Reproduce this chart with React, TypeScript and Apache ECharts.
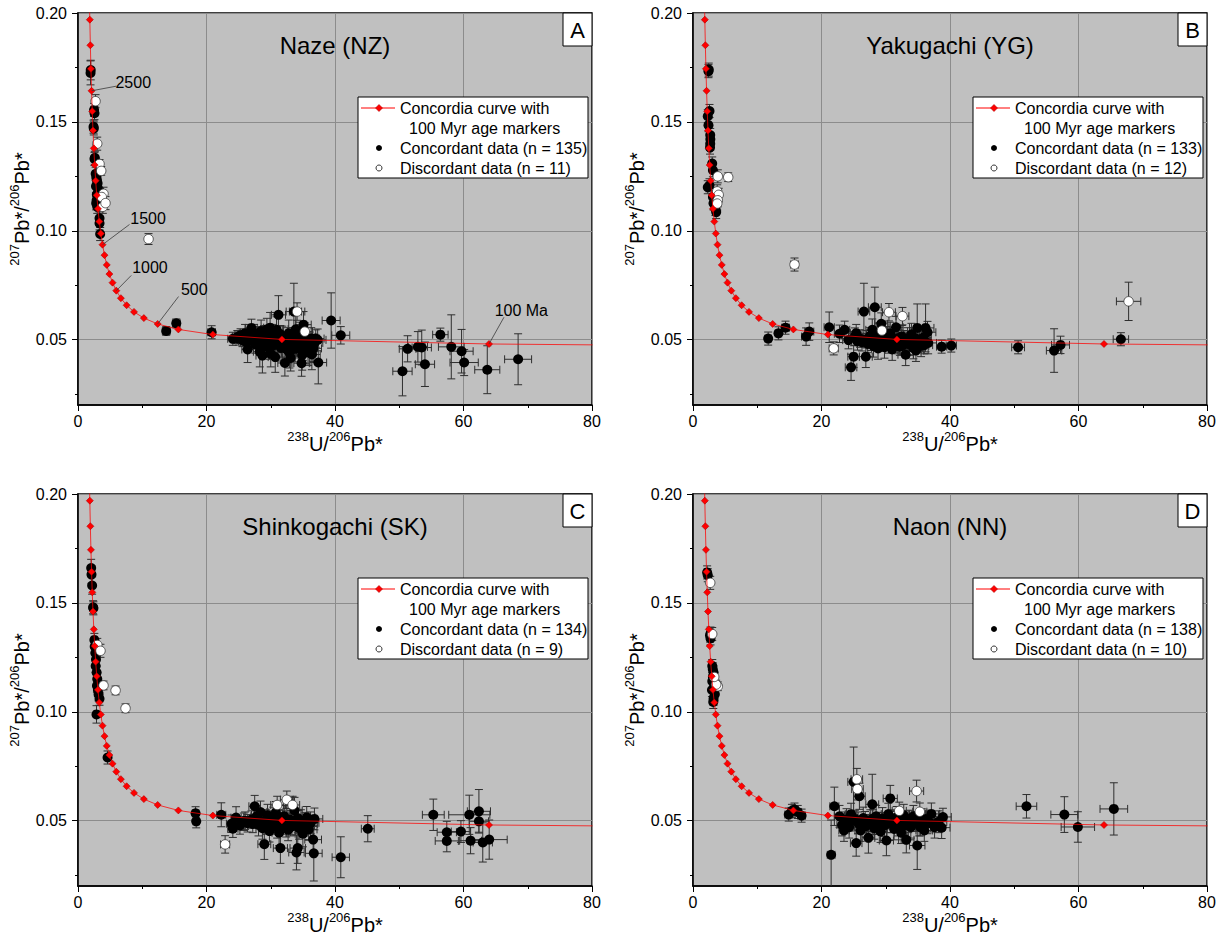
import React, { useEffect, useRef } from "react";
import * as echarts from "echarts";

const FONT = '"Liberation Sans", Arial, Helvetica, sans-serif';

// Panel texts
const panelTitles = ["Naze (NZ)", "Yakugachi (YG)", "Shinkogachi (SK)", "Naon (NN)"];
const panelLetters = ["A", "B", "C", "D"];
const concordantCounts = [135, 133, 134, 138];
const discordantCounts = [11, 12, 9, 10];

// Axis ticks
const xTicksInterval = 20;
const yMajorTicks = [0.05, 0.1, 0.15, 0.2];
const yMinorTicks = [0.025, 0.075, 0.125, 0.175];

// Concordia age markers (Ma) and their Tera-Wasserburg coordinates
const concordiaAges = [2800, 2700, 2600, 2500, 2400, 2300, 2200, 2100, 2000, 1900, 1800, 1700, 1600, 1500, 1400, 1300, 1200, 1100, 1000, 900, 800, 700, 600, 500, 400, 300, 200, 100];
const concordiaX = [1.8394, 1.9234, 2.0139, 2.1118, 2.2179, 2.3334, 2.4594, 2.5976, 2.7498, 2.9181, 3.1052, 3.3146, 3.5502, 3.8175, 4.1232, 4.476, 4.8879, 5.3749, 5.9596, 6.6745, 7.5684, 8.7183, 10.252, 12.399, 15.621, 20.992, 31.735, 63.97];
const concordiaY = [0.19693, 0.18519, 0.17436, 0.16427, 0.15484, 0.14605, 0.13784, 0.13017, 0.12301, 0.11632, 0.11006, 0.10421, 0.09873, 0.09362, 0.08882, 0.08433, 0.08013, 0.07619, 0.0725, 0.06905, 0.0658, 0.06276, 0.0599, 0.05722, 0.0547, 0.05234, 0.05011, 0.04802];
const curveTop = [1.7603, 0.20928];   // 2900 Ma (beyond plot top)
const curveTail = [80.08, 0.04761];   // 80 Ma (plot right edge)

// Panel A annotations: [markerX, markerY, leaderX, leaderY, textX, textY]
const annotationLabelsA = ["2500", "1500", "1000", "500", "100 Ma"];
const annotationsA = [
  [2.1118, 0.16427, 5.95, 0.1664, 8.6, 0.1683],
  [3.8175, 0.09362, 8.02, 0.1029, 10.9, 0.1057],
  [5.9596, 0.0725, 8.29, 0.0795, 11.2, 0.0833],
  [12.399, 0.05722, 15.65, 0.0698, 18.1, 0.0729],
  [63.97, 0.04802, 66.3, 0.0603, 69.0, 0.0634],
];

// Data: [238U/206Pb, 207Pb/206Pb, x error, y error]
const concordantA = [
  [1.95, 0.1725, 0.08, 0.0055], [1.98, 0.1738, 0.08, 0.0045], [2.57, 0.154, 0.1, 0.003], [2.5, 0.1555, 0.1, 0.003],
  [2.46, 0.147, 0.1, 0.003], [2.42, 0.1478, 0.1, 0.003], [2.57, 0.133, 0.1, 0.003], [2.62, 0.1335, 0.1, 0.003],
  [2.75, 0.1262, 0.1, 0.003], [2.85, 0.1245, 0.1, 0.003], [2.95, 0.1232, 0.1, 0.003], [3.05, 0.1218, 0.1, 0.003],
  [2.8, 0.1205, 0.1, 0.003], [3.1, 0.1195, 0.1, 0.003], [2.93, 0.1167, 0.1, 0.003], [3.2, 0.116, 0.1, 0.003],
  [2.83, 0.1126, 0.1, 0.003], [2.9, 0.114, 0.1, 0.003], [3.0, 0.111, 0.1, 0.003], [3.35, 0.1057, 0.1, 0.003],
  [3.35, 0.1034, 0.1, 0.003], [3.45, 0.0985, 0.12, 0.003],
  [13.73, 0.054, 0.6, 0.002], [15.3, 0.0575, 0.6, 0.002], [20.8, 0.0534, 0.6, 0.003],
  [24.1, 0.0504, 0.8, 0.003], [24.8, 0.0512, 0.8, 0.003], [25.3, 0.052, 0.9, 0.003], [25.6, 0.0498, 0.9, 0.003],
  [26.0, 0.053, 0.9, 0.004], [26.2, 0.0488, 0.9, 0.003], [26.5, 0.0512, 0.9, 0.004], [27.0, 0.0554, 0.9, 0.004],
  [27.3, 0.05, 1.0, 0.004], [27.6, 0.0478, 1.0, 0.004], [27.9, 0.052, 1.0, 0.004], [28.2, 0.0495, 1.0, 0.005],
  [28.5, 0.054, 1.0, 0.005], [28.7, 0.0427, 1.0, 0.008], [28.9, 0.047, 1.0, 0.005], [29.2, 0.051, 1.0, 0.005],
  [29.4, 0.0548, 1.0, 0.005], [29.6, 0.0485, 1.0, 0.004], [29.8, 0.046, 1.0, 0.005], [30.0, 0.0435, 1.0, 0.006],
  [30.2, 0.052, 1.1, 0.005], [30.4, 0.05, 1.1, 0.004], [30.6, 0.0476, 1.1, 0.005], [30.9, 0.0545, 1.1, 0.006],
  [31.2, 0.0614, 1.1, 0.0088], [31.4, 0.049, 1.1, 0.005], [31.6, 0.0462, 1.1, 0.006], [31.8, 0.0512, 1.1, 0.005],
  [32.2, 0.0393, 1.1, 0.006], [32.4, 0.047, 1.1, 0.005], [32.6, 0.0505, 1.1, 0.005], [32.8, 0.053, 1.2, 0.006],
  [33.1, 0.0416, 1.2, 0.006], [33.3, 0.048, 1.2, 0.005], [33.6, 0.0629, 1.2, 0.013], [33.8, 0.0458, 1.2, 0.006],
  [34.0, 0.05, 1.2, 0.005], [34.3, 0.0472, 1.2, 0.005], [34.5, 0.052, 1.2, 0.006], [34.8, 0.0392, 1.2, 0.006],
  [35.0, 0.0455, 1.2, 0.005], [35.1, 0.0569, 1.2, 0.006], [35.4, 0.049, 1.3, 0.005], [35.8, 0.0442, 1.3, 0.006],
  [36.0, 0.0475, 1.3, 0.005], [36.3, 0.0505, 1.3, 0.005], [36.6, 0.046, 1.3, 0.006], [37.3, 0.0499, 1.3, 0.005],
  [37.4, 0.0395, 1.3, 0.0098], [39.4, 0.0588, 1.4, 0.0127], [40.9, 0.052, 1.4, 0.004],
  [25.0, 0.0505, 0.9, 0.003], [26.8, 0.0495, 0.9, 0.004], [27.4, 0.053, 1.0, 0.004], [28.0, 0.0508, 1.0, 0.004],
  [28.6, 0.0488, 1.0, 0.004], [29.0, 0.0525, 1.0, 0.004], [29.5, 0.047, 1.0, 0.004], [30.3, 0.0495, 1.1, 0.004],
  [30.8, 0.0508, 1.1, 0.004], [31.0, 0.0482, 1.1, 0.004], [31.5, 0.0525, 1.1, 0.004], [32.0, 0.0488, 1.1, 0.004],
  [32.5, 0.0455, 1.1, 0.005], [33.0, 0.0498, 1.2, 0.004], [33.5, 0.0515, 1.2, 0.004], [34.0, 0.0468, 1.2, 0.004],
  [34.6, 0.0492, 1.2, 0.004], [35.2, 0.051, 1.2, 0.004], [35.6, 0.0468, 1.3, 0.004], [36.1, 0.0495, 1.3, 0.004],
  [36.8, 0.0485, 1.3, 0.004], [37.0, 0.0505, 1.3, 0.004],
  [26.4, 0.0455, 0.9, 0.006], [28.3, 0.0445, 1.0, 0.007], [30.7, 0.042, 1.1, 0.007], [32.9, 0.044, 1.2, 0.007],
  [34.9, 0.043, 1.2, 0.007], [36.4, 0.0432, 1.3, 0.007], [29.9, 0.0555, 1.0, 0.007], [33.9, 0.0548, 1.2, 0.007],
  [50.5, 0.0355, 1.5, 0.0113], [51.3, 0.0458, 1.3, 0.006], [52.9, 0.0467, 1.5, 0.007], [53.5, 0.0464, 1.5, 0.008],
  [54.0, 0.0387, 1.5, 0.0102], [56.4, 0.0523, 1.2, 0.003], [58.1, 0.0467, 2.0, 0.0147], [59.7, 0.0447, 1.8, 0.01],
  [60.1, 0.0395, 2.2, 0.006], [63.7, 0.0362, 1.95, 0.011], [68.5, 0.041, 2.1, 0.0117],
];
const discordantA = [
  [2.73, 0.1595, 0.1, 0.003], [2.99, 0.14, 0.1, 0.003], [3.35, 0.1307, 0.12, 0.002], [3.61, 0.1275, 0.12, 0.002],
  [3.97, 0.117, 0.12, 0.003], [3.7, 0.1155, 0.12, 0.003], [3.86, 0.111, 0.12, 0.003], [4.28, 0.1127, 0.12, 0.003],
  [10.98, 0.0962, 0.4, 0.0025], [34.1, 0.0629, 1.2, 0.004], [35.3, 0.0537, 1.2, 0.004],
];

const concordantB = [
  [2.41, 0.1733, 0.08, 0.003], [2.45, 0.174, 0.08, 0.003], [2.57, 0.155, 0.1, 0.003], [2.3, 0.1526, 0.1, 0.003],
  [2.41, 0.1485, 0.1, 0.003], [2.68, 0.144, 0.1, 0.003], [2.7, 0.142, 0.1, 0.003], [2.68, 0.14, 0.1, 0.003],
  [2.65, 0.1382, 0.1, 0.003], [2.99, 0.1309, 0.1, 0.003], [3.1, 0.1278, 0.1, 0.003], [2.57, 0.1209, 0.1, 0.003],
  [2.3, 0.12, 0.1, 0.003], [3.1, 0.1155, 0.1, 0.003], [3.19, 0.1126, 0.1, 0.003], [3.61, 0.1086, 0.1, 0.003],
  [3.5, 0.11, 0.1, 0.003],
  [11.7, 0.0505, 0.5, 0.003], [13.3, 0.0529, 0.5, 0.003], [14.4, 0.0555, 0.6, 0.003], [17.6, 0.0514, 0.7, 0.004],
  [18.1, 0.0537, 0.7, 0.004], [21.2, 0.0557, 0.8, 0.007], [22.8, 0.0527, 0.8, 0.004], [23.6, 0.0545, 0.8, 0.004],
  [24.6, 0.0373, 0.9, 0.006], [25.0, 0.0422, 0.9, 0.005], [25.2, 0.0514, 0.9, 0.004], [25.6, 0.0492, 0.9, 0.004],
  [26.0, 0.0505, 0.9, 0.004], [26.6, 0.0629, 0.9, 0.013], [26.9, 0.0422, 1.0, 0.005], [27.2, 0.048, 1.0, 0.004],
  [27.5, 0.0515, 1.0, 0.004], [27.9, 0.0545, 1.0, 0.005], [28.1, 0.047, 1.0, 0.005], [28.3, 0.0649, 1.0, 0.0092],
  [28.6, 0.05, 1.0, 0.004], [28.8, 0.046, 1.0, 0.005], [29.0, 0.0528, 1.0, 0.005], [29.3, 0.0573, 1.0, 0.005],
  [29.5, 0.0488, 1.0, 0.004], [29.8, 0.0465, 1.0, 0.005], [30.1, 0.051, 1.1, 0.005], [30.4, 0.0478, 1.1, 0.004],
  [30.7, 0.053, 1.1, 0.005], [31.0, 0.0455, 1.1, 0.005], [31.3, 0.05, 1.1, 0.004], [31.6, 0.0557, 1.1, 0.005],
  [31.9, 0.0485, 1.1, 0.005], [32.2, 0.0468, 1.1, 0.004], [32.5, 0.0515, 1.1, 0.005], [32.8, 0.0492, 1.1, 0.005],
  [33.1, 0.0431, 1.2, 0.005], [33.4, 0.0505, 1.2, 0.005], [33.7, 0.0478, 1.2, 0.005], [34.0, 0.0525, 1.2, 0.005],
  [34.3, 0.0462, 1.2, 0.005], [34.7, 0.045, 1.2, 0.005], [34.9, 0.0554, 1.2, 0.011], [35.2, 0.0495, 1.2, 0.005],
  [35.5, 0.0472, 1.2, 0.005], [35.8, 0.051, 1.3, 0.005], [36.2, 0.0554, 1.3, 0.011], [36.5, 0.0534, 1.3, 0.005],
  [36.6, 0.0485, 1.3, 0.005],
  [24.2, 0.0498, 0.9, 0.004], [25.4, 0.053, 0.9, 0.004], [26.3, 0.0488, 0.9, 0.004], [27.0, 0.0502, 1.0, 0.004],
  [27.7, 0.049, 1.0, 0.004], [28.4, 0.0522, 1.0, 0.004], [29.1, 0.0496, 1.0, 0.004], [29.7, 0.0512, 1.0, 0.004],
  [30.2, 0.0492, 1.1, 0.004], [30.9, 0.0505, 1.1, 0.004], [31.5, 0.0482, 1.1, 0.004], [32.0, 0.0508, 1.1, 0.004],
  [32.7, 0.0475, 1.1, 0.004], [33.2, 0.0495, 1.2, 0.004], [33.9, 0.0488, 1.2, 0.004], [34.5, 0.0508, 1.2, 0.004],
  [35.0, 0.0482, 1.2, 0.004], [35.6, 0.0498, 1.3, 0.004], [36.0, 0.0475, 1.3, 0.004],
  [38.7, 0.0468, 0.8, 0.003], [40.2, 0.0473, 0.8, 0.003], [50.6, 0.0465, 1.0, 0.003], [56.2, 0.045, 1.2, 0.01],
  [57.2, 0.0476, 1.4, 0.004], [66.6, 0.0502, 1.2, 0.003],
];
const discordantB = [
  [3.86, 0.125, 0.12, 0.003], [5.48, 0.1246, 0.25, 0.002], [3.77, 0.1181, 0.12, 0.003], [4.0, 0.1165, 0.12, 0.003],
  [3.86, 0.114, 0.12, 0.003], [3.77, 0.1125, 0.12, 0.003], [15.8, 0.0845, 0.6, 0.003], [21.9, 0.046, 0.7, 0.003],
  [29.4, 0.0542, 0.9, 0.004], [30.5, 0.0626, 1.0, 0.004], [32.6, 0.0608, 1.0, 0.004], [67.8, 0.0676, 1.9, 0.0088],
];

const concordantC = [
  [2.05, 0.166, 0.08, 0.004], [2.1, 0.163, 0.08, 0.004], [2.2, 0.158, 0.08, 0.004], [2.35, 0.148, 0.1, 0.003],
  [2.4, 0.1475, 0.1, 0.003], [2.55, 0.133, 0.1, 0.003], [2.6, 0.13, 0.1, 0.003], [2.7, 0.127, 0.1, 0.003],
  [2.8, 0.124, 0.1, 0.003], [2.75, 0.121, 0.1, 0.003], [2.9, 0.118, 0.1, 0.003], [3.0, 0.115, 0.1, 0.003],
  [2.95, 0.112, 0.1, 0.003], [3.1, 0.11, 0.1, 0.003], [3.2, 0.108, 0.1, 0.003], [3.35, 0.106, 0.1, 0.003],
  [2.88, 0.0988, 0.12, 0.004], [4.6, 0.079, 0.15, 0.003],
  [18.3, 0.0534, 0.5, 0.003], [18.4, 0.0497, 0.5, 0.003], [22.3, 0.0527, 0.7, 0.0055], [23.9, 0.0486, 0.8, 0.004],
  [24.1, 0.0463, 0.8, 0.004], [24.6, 0.0514, 0.8, 0.005], [25.2, 0.0478, 0.8, 0.004], [25.8, 0.0495, 0.9, 0.004],
  [26.4, 0.0488, 0.9, 0.004], [27.0, 0.0505, 0.9, 0.004], [27.5, 0.0566, 0.9, 0.005], [27.8, 0.052, 0.9, 0.005],
  [28.1, 0.048, 1.0, 0.005], [28.4, 0.054, 1.0, 0.005], [28.7, 0.0465, 1.0, 0.005], [29.0, 0.0392, 1.0, 0.007],
  [29.2, 0.05, 1.0, 0.005], [29.5, 0.0525, 1.0, 0.005], [29.8, 0.0452, 1.0, 0.005], [30.1, 0.0488, 1.0, 0.005],
  [30.4, 0.0512, 1.1, 0.005], [30.8, 0.0538, 1.1, 0.005], [31.0, 0.047, 1.1, 0.005], [31.3, 0.0445, 1.1, 0.006],
  [31.5, 0.0374, 1.1, 0.007], [31.8, 0.0498, 1.1, 0.005], [32.1, 0.052, 1.1, 0.005], [32.4, 0.0475, 1.1, 0.005],
  [32.7, 0.0458, 1.1, 0.005], [33.0, 0.0505, 1.2, 0.005], [33.3, 0.0485, 1.2, 0.005], [33.7, 0.0547, 1.2, 0.006],
  [34.0, 0.0354, 1.2, 0.008], [34.2, 0.0374, 1.2, 0.007], [34.4, 0.0465, 1.2, 0.005], [34.7, 0.05, 1.2, 0.005],
  [35.0, 0.044, 1.2, 0.006], [35.3, 0.048, 1.2, 0.005], [35.6, 0.0515, 1.3, 0.005], [35.9, 0.046, 1.3, 0.005],
  [36.2, 0.049, 1.3, 0.005], [36.6, 0.0413, 1.3, 0.006], [36.7, 0.035, 1.3, 0.0127], [36.8, 0.0508, 1.3, 0.005],
  [26.0, 0.05, 0.9, 0.004], [27.2, 0.0485, 0.9, 0.004], [28.0, 0.051, 1.0, 0.004], [28.6, 0.0495, 1.0, 0.004],
  [29.4, 0.0478, 1.0, 0.004], [30.0, 0.0505, 1.0, 0.004], [30.6, 0.049, 1.1, 0.004], [31.2, 0.051, 1.1, 0.004],
  [31.9, 0.0478, 1.1, 0.004], [32.5, 0.05, 1.1, 0.004], [33.1, 0.047, 1.2, 0.004], [33.6, 0.0495, 1.2, 0.004],
  [34.2, 0.0512, 1.2, 0.004], [34.8, 0.0478, 1.2, 0.004], [35.4, 0.0498, 1.3, 0.004], [36.0, 0.0485, 1.3, 0.004],
  [40.9, 0.0332, 1.35, 0.0094], [45.1, 0.0463, 1.0, 0.006], [55.3, 0.0527, 1.7, 0.0072], [57.4, 0.0447, 1.5, 0.005],
  [57.4, 0.0407, 1.8, 0.005], [59.6, 0.045, 1.5, 0.005], [60.9, 0.0527, 3.2, 0.009], [61.1, 0.0408, 1.7, 0.006],
  [62.4, 0.0543, 1.8, 0.01], [62.4, 0.0497, 1.5, 0.005], [63.0, 0.04, 1.5, 0.009], [64.0, 0.0413, 2.8, 0.009],
];
const discordantC = [
  [3.0, 0.1307, 0.12, 0.003], [3.5, 0.128, 0.12, 0.003], [3.97, 0.1121, 0.15, 0.002], [5.85, 0.1098, 0.2, 0.002],
  [7.4, 0.1016, 0.25, 0.002], [22.9, 0.0391, 0.7, 0.004], [31.0, 0.0572, 1.0, 0.004], [32.5, 0.0596, 1.0, 0.004],
  [33.4, 0.0572, 1.1, 0.004],
];

const concordantD = [
  [2.3, 0.1627, 0.1, 0.003], [2.2, 0.164, 0.1, 0.003], [2.73, 0.1359, 0.1, 0.003], [2.73, 0.1337, 0.1, 0.003],
  [2.65, 0.135, 0.1, 0.003], [3.08, 0.1195, 0.1, 0.003], [3.0, 0.121, 0.1, 0.003], [3.2, 0.118, 0.1, 0.003],
  [3.1, 0.116, 0.1, 0.003], [3.0, 0.114, 0.1, 0.003], [3.3, 0.112, 0.1, 0.003], [2.95, 0.11, 0.1, 0.003],
  [3.4, 0.108, 0.1, 0.003], [3.2, 0.106, 0.1, 0.003], [3.15, 0.1045, 0.1, 0.003],
  [14.9, 0.0528, 0.6, 0.003], [15.4, 0.0545, 0.6, 0.003], [15.8, 0.0551, 0.6, 0.003], [16.3, 0.054, 0.6, 0.003],
  [16.9, 0.0523, 0.6, 0.003], [21.5, 0.0343, 0.6, 0.016], [22.0, 0.0566, 0.7, 0.0088],
  [22.8, 0.052, 0.8, 0.005], [23.2, 0.048, 0.8, 0.005], [23.5, 0.0455, 0.8, 0.005], [23.9, 0.0505, 0.8, 0.005],
  [24.3, 0.047, 0.9, 0.005], [24.6, 0.053, 0.9, 0.005], [25.0, 0.0678, 0.9, 0.016], [25.4, 0.0397, 0.9, 0.006],
  [25.9, 0.0612, 0.9, 0.006], [25.7, 0.049, 0.9, 0.005], [26.1, 0.0455, 0.9, 0.005], [26.5, 0.0512, 0.9, 0.005],
  [26.9, 0.0475, 1.0, 0.005], [27.3, 0.0421, 1.0, 0.007], [27.6, 0.05, 1.0, 0.005], [27.9, 0.0575, 1.0, 0.0138],
  [28.2, 0.0465, 1.0, 0.005], [28.5, 0.052, 1.0, 0.005], [28.8, 0.0488, 1.0, 0.005], [29.2, 0.045, 1.0, 0.005],
  [29.5, 0.051, 1.0, 0.005], [29.8, 0.0478, 1.0, 0.005], [30.1, 0.0409, 1.1, 0.007], [30.4, 0.053, 1.1, 0.005],
  [30.7, 0.0602, 1.1, 0.006], [31.0, 0.0495, 1.1, 0.005], [31.3, 0.0462, 1.1, 0.005], [31.7, 0.0515, 1.1, 0.005],
  [32.0, 0.048, 1.1, 0.005], [32.4, 0.0445, 1.1, 0.005], [32.8, 0.0525, 1.2, 0.005], [33.2, 0.0412, 1.2, 0.006],
  [33.5, 0.0495, 1.2, 0.005], [33.9, 0.047, 1.2, 0.005], [34.3, 0.052, 1.2, 0.005], [34.9, 0.0386, 1.2, 0.011],
  [35.2, 0.048, 1.2, 0.005], [35.6, 0.0505, 1.2, 0.005], [36.0, 0.0455, 1.3, 0.005], [36.5, 0.049, 1.3, 0.005],
  [37.1, 0.0531, 1.3, 0.005], [37.6, 0.047, 1.3, 0.005], [38.2, 0.0495, 1.3, 0.005], [38.7, 0.0468, 1.3, 0.005],
  [38.9, 0.0517, 1.3, 0.004],
  [23.6, 0.05, 0.8, 0.004], [24.4, 0.0492, 0.9, 0.004], [25.2, 0.0508, 0.9, 0.004], [26.0, 0.048, 0.9, 0.004],
  [26.8, 0.0502, 1.0, 0.004], [27.4, 0.0488, 1.0, 0.004], [28.0, 0.051, 1.0, 0.004], [28.6, 0.0478, 1.0, 0.004],
  [29.4, 0.0498, 1.0, 0.004], [30.2, 0.0485, 1.1, 0.004], [30.8, 0.051, 1.1, 0.004], [31.5, 0.049, 1.1, 0.004],
  [32.2, 0.0502, 1.1, 0.004], [33.0, 0.0478, 1.2, 0.004], [33.7, 0.0508, 1.2, 0.004], [34.6, 0.049, 1.2, 0.004],
  [35.4, 0.047, 1.2, 0.004], [36.2, 0.0508, 1.3, 0.004], [37.0, 0.0488, 1.3, 0.004],
  [51.9, 0.0566, 1.6, 0.0054], [57.8, 0.0528, 2.1, 0.0082], [59.9, 0.0471, 2.6, 0.007], [65.5, 0.0554, 2.15, 0.012],
];
const discordantD = [
  [2.68, 0.1592, 0.1, 0.003], [2.99, 0.1357, 0.1, 0.003], [3.86, 0.1117, 0.15, 0.002], [3.6, 0.1125, 0.15, 0.002],
  [25.5, 0.069, 0.9, 0.005], [25.6, 0.0645, 0.9, 0.005], [32.1, 0.0545, 1.1, 0.004], [34.8, 0.0636, 1.1, 0.005],
  [35.3, 0.0541, 1.1, 0.004], [3.3, 0.116, 0.12, 0.002],
];

const concordantSets = [concordantA, concordantB, concordantC, concordantD];
const discordantSets = [discordantA, discordantB, discordantC, discordantD];

// Layout (pixels)
const GRID_W = 514;
const GRID_H = 392;
const gridOrigins = [[78, 13], [693, 13], [78, 494], [693, 494]];

const axisNameRich = {
  s: { fontSize: 13, fontFamily: FONT, color: "#000", verticalAlign: "top", lineHeight: 13 },
  n: { fontSize: 20, fontFamily: FONT, color: "#000", verticalAlign: "bottom", lineHeight: 24 },
};

function errorBarRender(params: any, api: any) {
  const x = api.value(0), y = api.value(1), xe = api.value(2), ye = api.value(3);
  const c = api.coord([x, y]);
  const l = api.coord([x - xe, y]);
  const r = api.coord([x + xe, y]);
  const t = api.coord([x, y + ye]);
  const b = api.coord([x, y - ye]);
  const cap = 4;
  const style = { stroke: "#2e2e2e", lineWidth: 1 };
  return {
    type: "group",
    children: [
      { type: "line", shape: { x1: l[0], y1: c[1], x2: r[0], y2: c[1] }, style },
      { type: "line", shape: { x1: c[0], y1: t[1], x2: c[0], y2: b[1] }, style },
      { type: "line", shape: { x1: l[0], y1: c[1] - cap, x2: l[0], y2: c[1] + cap }, style },
      { type: "line", shape: { x1: r[0], y1: c[1] - cap, x2: r[0], y2: c[1] + cap }, style },
      { type: "line", shape: { x1: c[0] - cap, y1: t[1], x2: c[0] + cap, y2: t[1] }, style },
      { type: "line", shape: { x1: c[0] - cap, y1: b[1], x2: c[0] + cap, y2: b[1] }, style },
    ],
  };
}

function annotationRender(params: any, api: any) {
  const m = api.coord([api.value(0), api.value(1)]);
  const s = api.coord([api.value(2), api.value(3)]);
  const t = api.coord([api.value(4), api.value(5)]);
  return {
    type: "group",
    children: [
      { type: "line", shape: { x1: s[0], y1: s[1], x2: m[0], y2: m[1] }, style: { stroke: "#3a3a3a", lineWidth: 0.8 } },
      {
        type: "text",
        x: t[0],
        y: t[1],
        style: {
          text: annotationLabelsA[params.dataIndex],
          fontSize: 16,
          fontFamily: FONT,
          fill: "#000",
          align: "center",
          verticalAlign: "middle",
        },
      },
    ],
  };
}

function buildOption() {
  const grids: any[] = [];
  const xAxes: any[] = [];
  const yAxes: any[] = [];
  const series: any[] = [];
  const graphics: any[] = [];

  const concordiaData: any[] = [{ value: curveTop, symbol: "none" }];
  for (let k = 0; k < concordiaAges.length; k++) {
    concordiaData.push({ value: [concordiaX[k], concordiaY[k]], name: String(concordiaAges[k]) });
  }
  concordiaData.push({ value: curveTail, symbol: "none" });

  for (let i = 0; i < 4; i++) {
    const [gx, gy] = gridOrigins[i];
    grids.push({
      left: gx,
      top: gy,
      width: GRID_W,
      height: GRID_H,
      show: true,
      backgroundColor: "#c0c0c0",
      borderColor: "#000",
      borderWidth: 1.5,
      containLabel: false,
      outerBoundsMode: "none",
    });
    xAxes.push({
      type: "value",
      gridIndex: i,
      min: 0,
      max: 80,
      interval: xTicksInterval,
      axisLine: { show: true, onZero: false, lineStyle: { color: "#000", width: 1.5 } },
      axisTick: { show: true, length: 6, lineStyle: { color: "#000", width: 1 } },
      minorTick: { show: true, splitNumber: 2, length: 3, lineStyle: { color: "#000", width: 1 } },
      axisLabel: { fontSize: 16, fontFamily: FONT, color: "#000", margin: 8 },
      splitLine: { show: true, lineStyle: { color: "#8c8c8c", width: 1 } },
      name: "{s|238}{n|U/}{s|206}{n|Pb*}",
      nameLocation: "middle",
      nameGap: 21,
      nameTextStyle: { rich: axisNameRich, fontSize: 20, fontFamily: FONT, color: "#000" },
    });
    yAxes.push({
      type: "value",
      gridIndex: i,
      min: 0.02,
      max: 0.2,
      splitNumber: 4,
      position: "left",
      axisLine: { show: true, onZero: false, lineStyle: { color: "#000", width: 1.5 } },
      axisTick: { show: true, length: 6, customValues: yMajorTicks, lineStyle: { color: "#000", width: 1 } },
      axisLabel: {
        customValues: yMajorTicks,
        formatter: (v: number) => v.toFixed(2),
        fontSize: 16,
        fontFamily: FONT,
        color: "#000",
        margin: 11,
      },
      splitLine: { show: true, lineStyle: { color: "#8c8c8c", width: 1 } },
      name: "{s|207}{n|Pb*/}{s|206}{n|Pb*}",
      nameLocation: "middle",
      nameGap: 43,
      nameTextStyle: { rich: axisNameRich, fontSize: 20, fontFamily: FONT, color: "#000" },
    });
    yAxes.push({
      type: "value",
      gridIndex: i,
      min: 0.02,
      max: 0.2,
      position: "left",
      offset: 0,
      axisLine: { show: false, onZero: false },
      axisTick: { show: true, length: 3, customValues: yMinorTicks, lineStyle: { color: "#000", width: 1 } },
      axisLabel: { show: false },
      splitLine: { show: false },
    });

    const yIdx = 2 * i;
    const conc = concordantSets[i];
    const disc = discordantSets[i];

    series.push({
      type: "custom",
      name: "errors-" + i,
      xAxisIndex: i,
      yAxisIndex: yIdx,
      renderItem: errorBarRender,
      data: conc.concat(disc),
      clip: true,
      z: 2,
      silent: true,
    });
    series.push({
      type: "scatter",
      name: "Concordant data",
      xAxisIndex: i,
      yAxisIndex: yIdx,
      data: conc.map((d) => [d[0], d[1]]),
      symbol: "circle",
      symbolSize: 10,
      itemStyle: { color: "#000", opacity: 1 },
      z: 3,
    });
    series.push({
      type: "scatter",
      name: "Discordant data",
      xAxisIndex: i,
      yAxisIndex: yIdx,
      data: disc.map((d) => [d[0], d[1]]),
      symbol: "circle",
      symbolSize: 9.5,
      itemStyle: { color: "#fff", borderColor: "#3a3a3a", borderWidth: 0.8, opacity: 1 },
      z: 4,
    });
    series.push({
      type: "line",
      name: "Concordia",
      xAxisIndex: i,
      yAxisIndex: yIdx,
      data: concordiaData,
      symbol: "diamond",
      symbolSize: 7,
      showSymbol: true,
      showAllSymbol: true,
      clip: true,
      lineStyle: { color: "#ff0000", width: 1, opacity: 0.75 },
      itemStyle: { color: "#ff0000", borderColor: "#b00000", borderWidth: 0.6 },
      z: 5,
    });
    if (i === 0) {
      series.push({
        type: "custom",
        name: "ages",
        xAxisIndex: 0,
        yAxisIndex: 0,
        renderItem: annotationRender,
        data: annotationsA,
        clip: false,
        z: 6,
        silent: true,
      });
    }

    const Z = 50;
    // Title
    graphics.push({
      type: "text",
      x: gx + GRID_W / 2,
      y: gy + 32,
      z: Z,
      style: { text: panelTitles[i], fontSize: 24, fontFamily: FONT, fill: "#000", align: "center", verticalAlign: "middle" },
    });
    // Panel letter box
    graphics.push({
      type: "rect",
      z: Z,
      shape: { x: gx + GRID_W - 29, y: gy, width: 29, height: 33 },
      style: { fill: "#fff", stroke: "#000", lineWidth: 1 },
    });
    graphics.push({
      type: "text",
      x: gx + GRID_W - 14.5,
      y: gy + 17,
      z: Z + 1,
      style: { text: panelLetters[i], fontSize: 22, fontFamily: FONT, fill: "#000", align: "center", verticalAlign: "middle" },
    });
    // Legend box
    const L = gx + 280;
    const T = gy + 84;
    const tx = { fontSize: 16, fontFamily: FONT, fill: "#000", align: "left", verticalAlign: "middle" };
    graphics.push(
      { type: "rect", z: Z, shape: { x: L, y: T, width: 230, height: 81 }, style: { fill: "#fff", stroke: "#000", lineWidth: 1 } },
      { type: "line", z: Z + 1, shape: { x1: L + 3, y1: T + 11, x2: L + 37, y2: T + 11 }, style: { stroke: "#ff0000", lineWidth: 1 } },
      {
        type: "polygon",
        z: Z + 2,
        shape: { points: [[L + 21, T + 7.5], [L + 24.5, T + 11], [L + 21, T + 14.5], [L + 17.5, T + 11]] },
        style: { fill: "#ff0000", stroke: "#b00000", lineWidth: 0.6 },
      },
      { type: "text", z: Z + 1, x: L + 42, y: T + 11, style: { ...tx, text: "Concordia curve with" } },
      { type: "text", z: Z + 1, x: L + 51, y: T + 31, style: { ...tx, text: "100 Myr age markers" } },
      { type: "circle", z: Z + 1, shape: { cx: L + 21, cy: T + 51, r: 3 }, style: { fill: "#000" } },
      { type: "text", z: Z + 1, x: L + 42, y: T + 51, style: { ...tx, text: `Concordant data (n = ${concordantCounts[i]})` } },
      { type: "circle", z: Z + 1, shape: { cx: L + 21, cy: T + 71, r: 3 }, style: { fill: "#fff", stroke: "#000", lineWidth: 0.8 } },
      { type: "text", z: Z + 1, x: L + 42, y: T + 71, style: { ...tx, text: `Discordant data (n = ${discordantCounts[i]})` } }
    );
  }

  return {
    animation: false,
    backgroundColor: "#fff",
    grid: grids,
    xAxis: xAxes,
    yAxis: yAxes,
    series,
    graphic: graphics,
  };
}

export default function App() {
  const ref = useRef<HTMLDivElement>(null);
  useEffect(() => {
    if (!ref.current) return;
    const chart = echarts.init(ref.current, null, { renderer: "svg" });
    chart.setOption(buildOption() as any);
    return () => chart.dispose();
  }, []);
  return (
    <div
      ref={ref}
      style={{ position: "absolute", left: 0, top: 0, width: 1223, height: 947, background: "#fff" }}
    />
  );
}
